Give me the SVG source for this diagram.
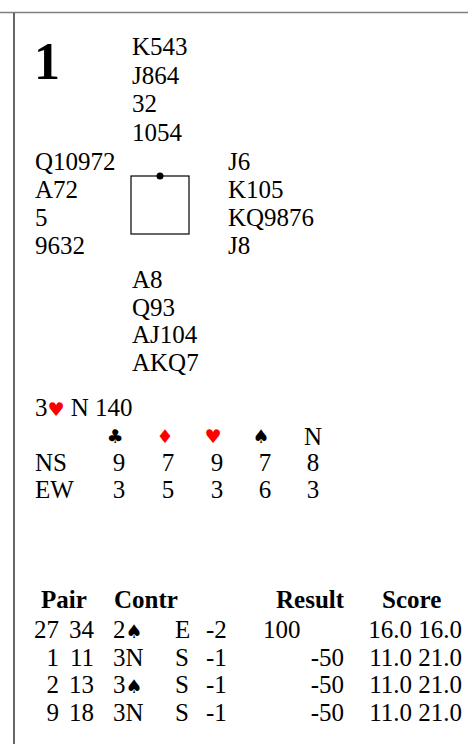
<svg xmlns="http://www.w3.org/2000/svg" width="468" height="744" viewBox="0 0 468 744">
<style>
text{font-family:"Liberation Serif","Times New Roman",serif;font-size:25px;fill:#000}
.b{font-weight:bold}
.big{font-weight:bold;font-size:52px}
.s{font-family:"DejaVu Sans",sans-serif;font-size:19px}
.r{fill:#ff0000}
.e{text-anchor:end}
.m{text-anchor:middle}
</style>
<rect width="468" height="744" fill="#fff"/>
<g id="frame">
<line x1="0" y1="12.5" x2="468" y2="12.5" stroke="#808080" stroke-width="1.5"/>
<line x1="14" y1="13" x2="14" y2="744" stroke="#000" stroke-width="1.2"/>
</g>
<g id="board-number"><text class="big" x="34" y="79">1</text></g>
<g id="north">
<text x="132" y="55">K543</text>
<text x="132" y="83.5">J864</text>
<text x="132" y="112">32</text>
<text x="132" y="140.5">1054</text>
</g>
<g id="west">
<text x="35" y="170">Q10972</text>
<text x="35" y="198">A72</text>
<text x="35" y="226">5</text>
<text x="35" y="254">9632</text>
</g>
<g id="east">
<text x="228" y="170">J6</text>
<text x="228" y="198">K105</text>
<text x="228" y="226">KQ9876</text>
<text x="228" y="254">J8</text>
</g>
<g id="table">
<rect x="131" y="176" width="58" height="58" fill="none" stroke="#000" stroke-width="1.2"/>
<circle cx="160" cy="176" r="3.5" fill="#000"/>
</g>
<g id="south">
<text x="132" y="288">A8</text>
<text x="132" y="315.5">Q93</text>
<text x="132" y="343">AJ104</text>
<text x="132" y="370.5">AKQ7</text>
</g>
<g id="par">
<text x="35" y="416">3<tspan class="s r">♥</tspan> N 140</text>
</g>
<g id="tricks">
<text class="s m" x="115" y="443">♣</text>
<text class="s m r" x="165" y="443">♦</text>
<text class="s m r" x="213" y="443">♥</text>
<text class="s m" x="261" y="443">♠</text>
<text class="m" x="313" y="445">N</text>
<text x="35" y="471">NS</text>
<text class="m" x="119" y="471">9</text>
<text class="m" x="168" y="471">7</text>
<text class="m" x="217" y="471">9</text>
<text class="m" x="265" y="471">7</text>
<text class="m" x="313" y="471">8</text>
<text x="35" y="498">EW</text>
<text class="m" x="119" y="498">3</text>
<text class="m" x="168" y="498">5</text>
<text class="m" x="217" y="498">3</text>
<text class="m" x="265" y="498">6</text>
<text class="m" x="313" y="498">3</text>
</g>
<g id="results">
<text class="b" x="41" y="608">Pair</text>
<text class="b" x="114" y="608">Contr</text>
<text class="b" x="276" y="608">Result</text>
<text class="b" x="382" y="608">Score</text>

<text class="e" x="59" y="638">27</text><text class="e" x="94" y="638">34</text>
<text x="113" y="638">2<tspan class="s">♠</tspan></text>
<text x="175" y="638">E</text><text x="206" y="638">-2</text>
<text x="263" y="638">100</text>
<text class="e" x="462" y="638">16.0 16.0</text>

<text class="e" x="59" y="665.5">1</text><text class="e" x="94" y="665.5">11</text>
<text x="113" y="665.5">3N</text>
<text x="175" y="665.5">S</text><text x="206" y="665.5">-1</text>
<text class="e" x="344" y="665.5">-50</text>
<text class="e" x="462" y="665.5">11.0 21.0</text>

<text class="e" x="59" y="693">2</text><text class="e" x="94" y="693">13</text>
<text x="113" y="693">3<tspan class="s">♠</tspan></text>
<text x="175" y="693">S</text><text x="206" y="693">-1</text>
<text class="e" x="344" y="693">-50</text>
<text class="e" x="462" y="693">11.0 21.0</text>

<text class="e" x="59" y="720.5">9</text><text class="e" x="94" y="720.5">18</text>
<text x="113" y="720.5">3N</text>
<text x="175" y="720.5">S</text><text x="206" y="720.5">-1</text>
<text class="e" x="344" y="720.5">-50</text>
<text class="e" x="462" y="720.5">11.0 21.0</text>
</g>
</svg>
